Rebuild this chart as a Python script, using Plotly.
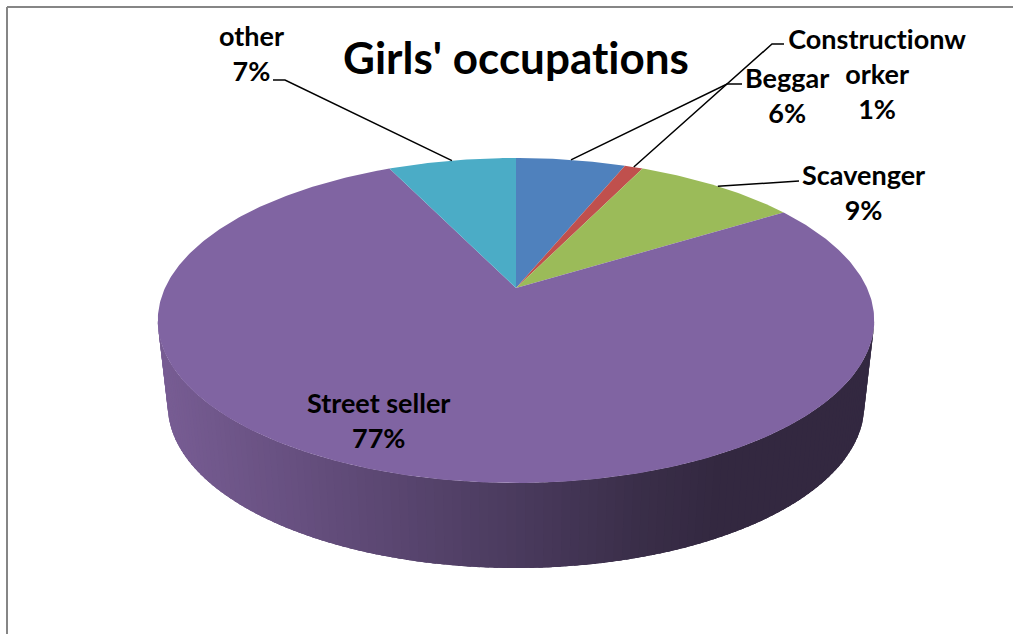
import math
import plotly.graph_objects as go

# ---- data ----
categories = ["Beggar", "Constructionw<br>orker", "Scavenger", "Street seller", "other"]
values = [6, 1, 9, 77, 7]
colors = ["#4f81bd", "#c0504d", "#9bbb59", "#8064a2", "#4bacc6"]
title_text = "Girls' occupations"

# ---- projection of the tilted disc (page pixels) ----
CX, CY = 516.0, 288.0
A, B, P = 351.0, 156.0, 0.2
WALL_DY, WALL_SCALE = 85.0, 0.972
WALL_SLICE = 3


def rim(theta, scale=1.0, dy=0.0):
    k = 1 + P * math.cos(theta)
    return CX + scale * A * math.sin(theta) / k, CY - B * math.cos(theta) / k + dy


total = sum(values)
edges = [0.0]
for v in values:
    edges.append(edges[-1] + v / total * 2 * math.pi)

WALL_STOPS = [
    (155, (120, 93, 148)),
    (330, (98, 76, 122)),
    (500, (76, 60, 96)),
    (640, (58, 46, 73)),
    (720, (51, 40, 64)),
    (880, (51, 40, 64)),
]


def wall_color(x):
    for (x0, c0), (x1, c1) in zip(WALL_STOPS, WALL_STOPS[1:]):
        if x <= x1:
            t = max(0.0, (x - x0) / (x1 - x0))
            return "rgb(%d,%d,%d)" % tuple(round(a + (b - a) * t) for a, b in zip(c0, c1))
    return "rgb(51,40,64)"


fig = go.Figure()


def poly(xs, ys, color):
    fig.add_trace(go.Scatter(
        x=xs, y=ys, mode="lines", fill="toself", fillcolor=color,
        line=dict(color=color, width=0), hoverinfo="skip", showlegend=False))


# front wall: strips run right to left, each one running under the next to hide seams
t_right = math.acos(-P)
t_left = 2 * math.pi - t_right
N = 130
step = (t_left - t_right) / N
for i in range(N):
    t1 = t_right + step * i
    t2 = min(t_left, t1 + step * 2.5)
    ts = [t1, t1 + step, t2] if t2 > t1 + step else [t1, t2]
    top = [rim(t) for t in ts]
    low = [rim(t, WALL_SCALE, WALL_DY) for t in reversed(ts)]
    p = top + low + [top[0]]
    mid = rim(t1 + step / 2)
    poly([q[0] for q in p], [q[1] for q in p], wall_color(mid[0]))

# top slices
for i, c in enumerate(colors):
    n = max(6, int((edges[i + 1] - edges[i]) * 90))
    pts = [rim(edges[i] + (edges[i + 1] - edges[i]) * j / n) for j in range(n + 1)]
    poly([CX] + [q[0] for q in pts] + [CX], [CY] + [q[1] for q in pts] + [CY], c)

# ---- leader lines: from the middle of each slice's rim to an elbow by its label ----
leader_elbows = {
    0: [(727, 84), (742, 84)],
    1: [(772, 44), (784, 44)],
    2: [(792, 181), (799, 181)],
    4: [(285, 80), (273, 80)],
}
for i, elbow in leader_elbows.items():
    s = rim((edges[i] + edges[i + 1]) / 2)
    fig.add_trace(go.Scatter(
        x=[s[0]] + [e[0] for e in elbow], y=[s[1]] + [e[1] for e in elbow],
        mode="lines", line=dict(color="black", width=1.5),
        hoverinfo="skip", showlegend=False))

# ---- labels ----
label_pos = [(787, 95), (877, 73), (863, 192), (378, 420), (251, 53)]
FONT = "Lato, Carlito, Calibri, sans-serif"
annotations = []
for name, v, (x, y) in zip(categories, values, label_pos):
    annotations.append(dict(
        x=x, y=y, xref="x", yref="y", text=f"<b>{name}<br>{v}%</b>", showarrow=False,
        xanchor="center", yanchor="middle", align="center",
        font=dict(family=FONT, size=27, color="black")))

border = [
    dict(type="line", x0=7, x1=7, y0=7, y1=634, xref="x", yref="y", line=dict(color="#868686", width=2)),
    dict(type="line", x0=7, x1=1013, y0=7, y1=7, xref="x", yref="y", line=dict(color="#868686", width=2)),
]

fig.update_layout(
    width=1013, height=634, autosize=False,
    margin=dict(l=0, r=0, t=0, b=0),
    paper_bgcolor="white", plot_bgcolor="white",
    showlegend=False,
    title=dict(text=f"<b>{title_text}</b>", x=516 / 1013, y=1 - 59 / 634,
               xanchor="center", yanchor="middle", xref="paper", yref="paper",
               font=dict(family=FONT, size=44, color="black")),
    xaxis=dict(range=[0, 1013], visible=False, fixedrange=True),
    yaxis=dict(range=[634, 0], visible=False, fixedrange=True),
    annotations=annotations, shapes=border,
)

fig.write_html("out.html", config={"displayModeBar": False},
               post_script="document.body.style.margin='0';document.body.style.overflow='hidden';"
                           "var s=document.createElement('style');"
                           "s.textContent='svg text{font-variant-ligatures:none !important;"
                           "font-feature-settings:\"liga\" 0 !important}';"
                           "document.head.appendChild(s);")
